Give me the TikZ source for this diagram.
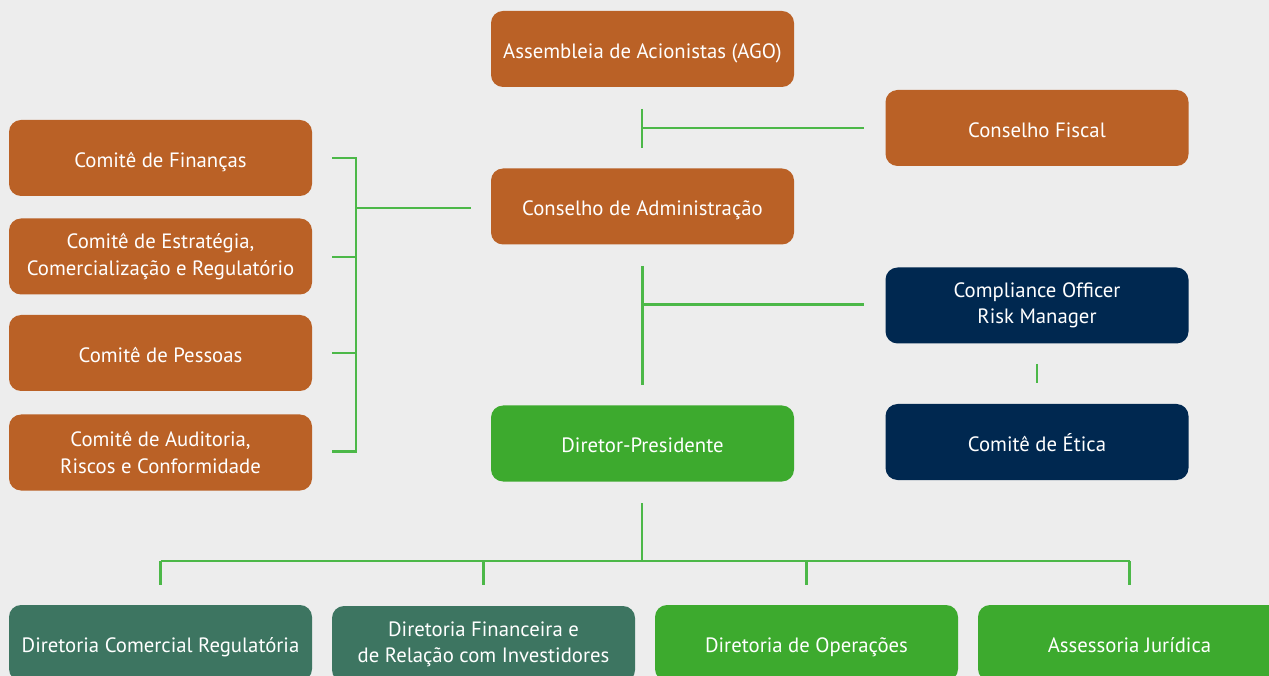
\documentclass[tikz,border=0pt]{standalone}
\usepackage{fontspec}
\setmainfont{PT Sans}
\usepackage{tikz}

\definecolor{bgGray}{HTML}{EDEDED}
\definecolor{boxOrange}{HTML}{BA6126}
\definecolor{boxNavy}{HTML}{002850}
\definecolor{boxGreen}{HTML}{3DAA2E}
\definecolor{boxTeal}{HTML}{3D7561}
\definecolor{lineGreen}{HTML}{4CB848}

\tikzset{
  orgbox/.style={rounded corners=0.24cm, minimum width=6.06cm, minimum height=1.52cm,
    text=white, align=center, font=\fontsize{11.8}{15}\selectfont, inner sep=2pt},
  single/.style={text height=2.25ex, text depth=0.2ex},
  orange/.style={orgbox, fill=boxOrange},
  navy/.style={orgbox, fill=boxNavy},
  green/.style={orgbox, fill=boxGreen},
  teal/.style={orgbox, fill=boxTeal},
  link/.style={draw=lineGreen, line width=1.2pt}
}

\begin{document}
\begin{tikzpicture}
  \fill[bgGray] (0,0) rectangle (25.38,-13.52);
  \useasboundingbox (0,0) rectangle (25.38,-13.52);

  \node[orange, single] (ago) at (12.85,-0.98) {Assembleia de Acionistas (AGO)};
  \node[orange, single] (fiscal) at (20.74,-2.56) {Conselho Fiscal};
  \node[orange, single] (adm) at (12.85,-4.13) {Conselho de Administração};
  \node[navy] (compl) at (20.74,-6.11) {Compliance Officer\\Risk Manager};
  \node[navy, single] (etica) at (20.74,-8.84) {Comitê de Ética};
  \node[green, single] (pres) at (12.85,-8.87) {Diretor-Presidente};

  \node[orange, single] (fin) at (3.21,-3.16) {Comitê de Finanças};
  \node[orange] (estr) at (3.21,-5.13) {Comitê de Estratégia,\\Comercialização e Regulatório};
  \node[orange, single] (pess) at (3.21,-7.06) {Comitê de Pessoas};
  \node[orange] (aud) at (3.21,-9.05) {Comitê de Auditoria,\\Riscos e Conformidade};

  \node[teal, single] (dcr) at (3.21,-12.86) {Diretoria Comercial Regulatória};
  \node[teal] (dfri) at (9.67,-12.88) {Diretoria Financeira e\\de Relação com Investidores};
  \node[green, single] (dop) at (16.13,-12.86) {Diretoria de Operações};
  \node[green, single] (jur) at (22.59,-12.86) {Assessoria Jurídica};

  % conselho fiscal
  \coordinate (fiscalJ) at (12.84,-2.56);
  \draw[link] (12.84,-2.18) -- (12.84,-2.96);
  \draw[link] (fiscalJ) -- ([xshift=-0.42cm]fiscal.west);

  % comites
  \coordinate (comJ) at (7.12,-4.16);
  \draw[link] ([xshift=0.4cm]fin.east) -- (7.12,-3.16) -- (7.12,-9.03) -- ([xshift=0.4cm]aud.east |- 0,-9.03);
  \draw[link] ([xshift=0.4cm]estr.east |- 0,-5.14) -- (7.12,-5.14);
  \draw[link] ([xshift=0.4cm]pess.east) -- (7.12,-7.06);
  \draw[link] (comJ) -- ([xshift=-0.4cm]adm.west |- comJ);

  % compliance
  \coordinate (complJ) at (12.84,-6.09);
  \draw[link] ([yshift=-0.42cm]adm.south) -- ([yshift=0.4cm]pres.north);
  \draw[link] (complJ) -- ([xshift=-0.42cm]compl.west |- complJ);
  \draw[link] ([yshift=-0.4cm]compl.south) -- ([yshift=0.42cm]etica.north);

  % diretorias
  \coordinate (dirJ) at (12.84,-11.22);
  \draw[link] (12.84,-10.06) -- (dirJ);
  \draw[link] (dcr.north |- dirJ) -- (jur.north |- dirJ);
  \foreach \d in {dcr,dfri,dop,jur}
    \draw[link] (\d.north |- dirJ) -- (\d.north |- 0,-11.7);
\end{tikzpicture}
\end{document}
